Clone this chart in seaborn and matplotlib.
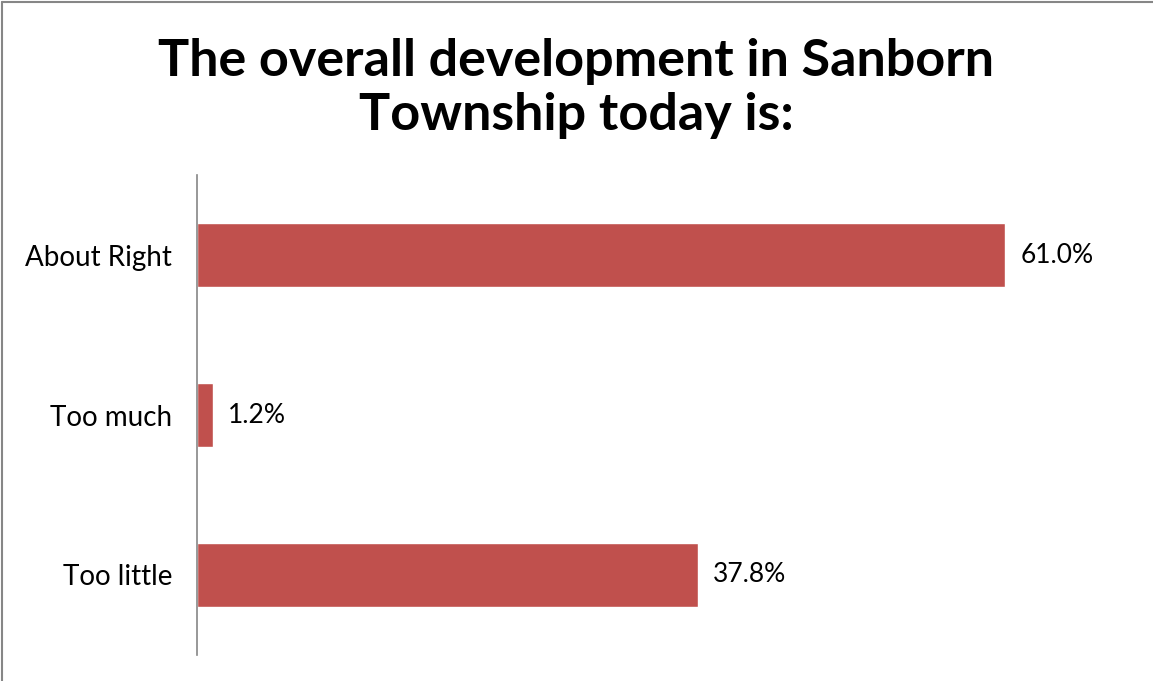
import matplotlib
matplotlib.use("Agg")
import matplotlib.pyplot as plt
import pandas as pd
import seaborn as sns
from matplotlib.lines import Line2D

# data
answers = ["About Right", "Too much", "Too little"]
shares = [61.0, 1.2, 37.8]
title = "The overall development in Sanborn\nTownship today is:"

df = pd.DataFrame({"answer": answers, "share": shares})

sns.set_style("white")
plt.rcParams["font.family"] = ["Lato", "DejaVu Sans"]
plt.rcParams["text.color"] = "black"
plt.rcParams["ytick.color"] = "black"

fig = plt.figure(figsize=(11.53, 6.81), dpi=100)
ax = fig.add_axes([0.1709, 0.0382, 0.804, 0.7048])

sns.barplot(data=df, x="share", y="answer", order=answers, orient="h",
            color="#C0504D", saturation=1, width=0.4, ax=ax)

ax.set_xlim(0, 70)
ax.set_ylim(2.5, -0.5)
ax.set_xlabel("")
ax.set_ylabel("")
ax.set_xticks([])
ax.tick_params(axis="y", length=0, pad=18, labelsize=20, labelcolor="black")

for s in ["top", "right", "bottom"]:
    ax.spines[s].set_visible(False)
ax.spines["left"].set_color("#868686")
ax.spines["left"].set_linewidth(1.2)

ax.bar_label(ax.containers[0], labels=[f"{v:.1f}%" for v in shares],
             padding=11, fontsize=19, color="black")

fig.text(0.5, 0.870, title, ha="center", va="center", fontsize=37.5,
         fontweight="bold", linespacing=1.2, color="black")

# chart border (only top and left show in the crop)
fig.add_artist(Line2D([0.002, 0.002], [0, 0.997], transform=fig.transFigure,
                      color="#868686", lw=1.5))
fig.add_artist(Line2D([0.002, 1], [0.997, 0.997], transform=fig.transFigure,
                      color="#868686", lw=1.5))

plt.savefig("out.png", dpi=100)
